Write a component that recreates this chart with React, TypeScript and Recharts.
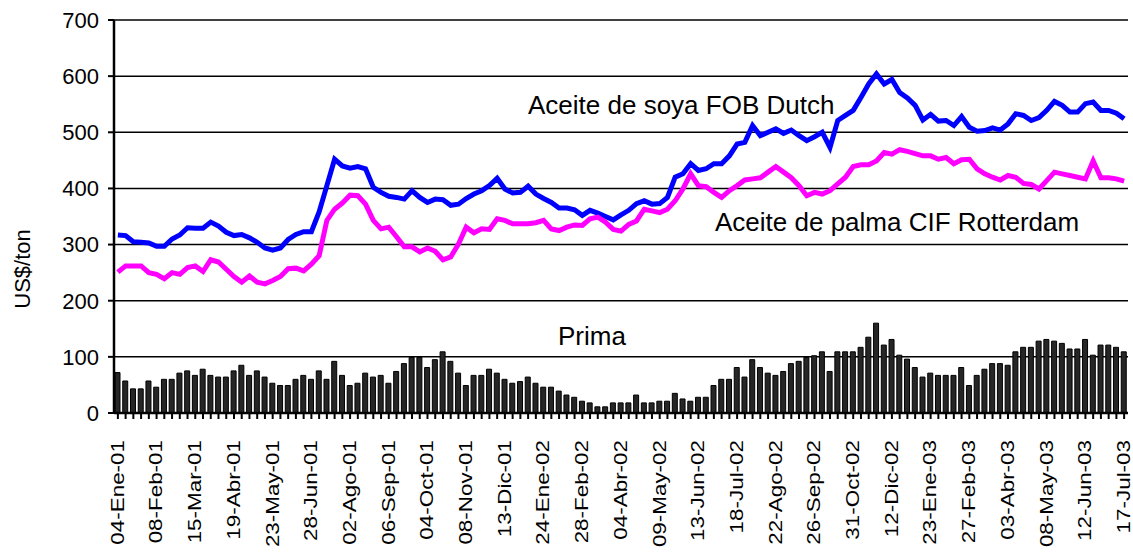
import React from 'react';
import { ComposedChart, Bar, Line, XAxis, YAxis, CartesianGrid } from 'recharts';

// weekly labels, one shown every 5 weeks
const tickLabels = [
  '04-Ene-01', '08-Feb-01', '15-Mar-01', '19-Abr-01', '23-May-01', '28-Jun-01', '02-Ago-01',
  '06-Sep-01', '04-Oct-01', '08-Nov-01', '13-Dic-01', '24-Ene-02', '28-Feb-02', '04-Abr-02',
  '09-May-02', '13-Jun-02', '18-Jul-02', '22-Ago-02', '26-Sep-02', '31-Oct-02', '12-Dic-02',
  '23-Ene-03', '27-Feb-03', '03-Abr-03', '08-May-03', '12-Jun-03', '17-Jul-03',
];

const soya = [
  317, 316, 305, 304, 303, 297, 297, 310, 317, 330, 329, 329, 340, 333, 322, 316, 318, 312, 304, 294,
  290, 294, 309, 318, 323, 323, 358, 405, 452, 440, 436, 439, 435, 402, 393, 386, 384, 381, 396, 384,
  375, 381, 380, 370, 372, 382, 390, 396, 405, 418, 399, 392, 393, 404, 390, 382, 375, 365, 365, 362,
  352, 361, 356, 350, 344, 353, 361, 373, 378, 372, 373, 384, 420, 426, 444, 432, 435, 444, 444, 458,
  479, 482, 512, 494, 500, 506, 498, 504, 494, 485, 492, 500, 473, 521, 530, 539, 562, 586, 604, 586,
  594, 571, 561, 548, 522, 532, 520, 521, 512, 528, 509, 502, 503, 508, 504, 515, 533, 530, 521, 526,
  539, 555, 548, 536, 536, 551, 554, 539, 539, 534, 524,
];

const palma = [
  251, 262, 262, 262, 250, 247, 239, 250, 247, 259, 262, 252, 273, 269, 256, 243, 233, 244, 233, 230,
  236, 243, 257, 258, 253, 265, 280, 343, 363, 374, 388, 387, 372, 343, 328, 331, 314, 296, 296, 287,
  294, 288, 273, 278, 301, 331, 321, 328, 327, 346, 343, 337, 337, 337, 339, 343, 328, 325, 331, 335,
  334, 346, 349, 340, 327, 324, 336, 342, 363, 360, 357, 363, 378, 399, 426, 405, 403, 393, 384, 396,
  405, 415, 417, 419, 429, 439, 429, 419, 405, 387, 393, 390, 396, 408, 420, 439, 442, 442, 449, 464,
  461, 469, 466, 462, 458, 458, 452, 455, 444, 451, 452, 435, 426, 420, 415, 423, 420, 409, 407, 399,
  414, 429, 426, 423, 420, 417, 449, 419, 419, 417, 413,
];

const prima = [
  72, 57, 43, 43, 57, 46, 60, 60, 71, 75, 67, 78, 67, 64, 64, 75, 85, 67, 75, 64,
  53, 49, 49, 60, 67, 60, 75, 60, 92, 67, 49, 53, 71, 64, 67, 53, 74, 88, 99, 99,
  81, 95, 109, 92, 71, 49, 67, 67, 78, 71, 60, 53, 56, 64, 53, 46, 46, 39, 32, 28,
  21, 18, 11, 11, 18, 18, 18, 32, 18, 18, 21, 21, 35, 25, 21, 28, 28, 49, 60, 60,
  81, 64, 95, 81, 71, 67, 74, 88, 92, 99, 102, 109, 74, 109, 109, 109, 117, 135, 160, 121,
  131, 103, 96, 81, 64, 71, 67, 67, 67, 81, 49, 67, 78, 88, 88, 85, 109, 117, 117, 128,
  131, 128, 124, 114, 114, 131, 103, 121, 121, 117, 109,
];

const yTicks = [0, 100, 200, 300, 400, 500, 600, 700];

const data = prima.map((p, i) => ({
  idx: i,
  week: i % 5 === 0 ? tickLabels[i / 5] : '',
  prima: p,
  soya: soya[i],
  palma: palma[i],
}));

const FONT = '"Liberation Sans", Arial, sans-serif';

// rotated date label, a bit stretched along its length like the original
const XTick = (props: any) => {
  const { x, y, payload } = props;
  const label = data[payload.value] ? data[payload.value].week : '';
  if (!label) return null;
  return (
    <g transform={`translate(${x - 1},${y})`}>
      <text
        transform="rotate(-90) translate(-19,0) scale(1.18,1)"
        x={0}
        y={0}
        textAnchor="end"
        dominantBaseline="central"
        fontFamily={FONT}
        fontSize={19}
        fill="#000"
      >
        {label}
      </text>
    </g>
  );
};

export default function App() {
  return (
    <div style={{ position: 'absolute', left: 0, top: 0, width: 1133, height: 552, background: '#fff' }}>
      <ComposedChart
        width={1133}
        height={552}
        data={data}
        margin={{ top: 20, right: 5, left: 0, bottom: 0 }}
        barCategoryGap={0}
      >
        <CartesianGrid vertical={false} stroke="#000" strokeWidth={1.5} />
        <XAxis
          dataKey="idx"
          interval={0}
          height={139}
          tick={<XTick />}
          tickSize={6}
          axisLine={{ stroke: '#000', strokeWidth: 2.5 }}
          tickLine={{ stroke: '#000', strokeWidth: 2 }}
        />
        <YAxis
          width={114}
          domain={[0, 700]}
          ticks={yTicks}
          interval={0}
          tickSize={6}
          tickMargin={9}
          axisLine={{ stroke: '#000', strokeWidth: 2.5 }}
          tickLine={{ stroke: '#000', strokeWidth: 2 }}
          tick={{ fill: '#000', fontSize: 22, fontFamily: FONT }}
        />
        <YAxis
          yAxisId="right"
          orientation="right"
          width={0}
          domain={[0, 700]}
          tick={false}
          tickLine={false}
          axisLine={{ stroke: '#000', strokeWidth: 3 }}
        />
        <Bar dataKey="prima" barSize={5} fill="#262626" stroke="#000" strokeWidth={1} isAnimationActive={false} />
        <Line type="linear" dataKey="soya" stroke="#0000ff" strokeWidth={5} dot={false} isAnimationActive={false} />
        <Line type="linear" dataKey="palma" stroke="#ff00ff" strokeWidth={5} dot={false} isAnimationActive={false} />
      </ComposedChart>
      <svg
        width={1133}
        height={552}
        style={{ position: 'absolute', left: 0, top: 0, pointerEvents: 'none' }}
        fontFamily={FONT}
      >
        <text x={22} y={269} fontSize={22} textAnchor="middle" dominantBaseline="central" transform="rotate(-90 22 269)">
          US$/ton
        </text>
        <text x={528} y={114} fontSize={26}>Aceite de soya FOB Dutch</text>
        <text x={715} y={231} fontSize={26}>Aceite de palma CIF Rotterdam</text>
        <text x={558} y={345} fontSize={26}>Prima</text>
      </svg>
    </div>
  );
}
